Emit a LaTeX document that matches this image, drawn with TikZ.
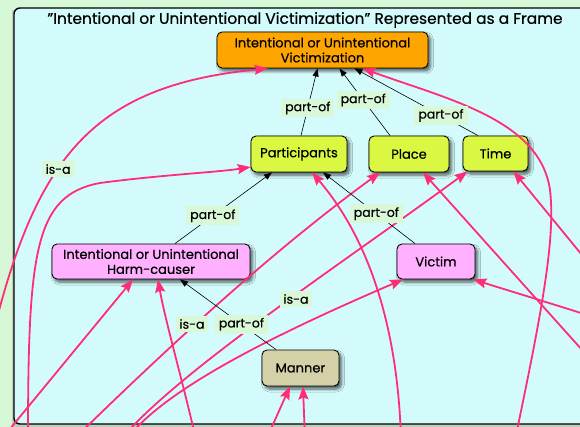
\documentclass[tikz,border=0pt]{standalone}
\usepackage{fontspec}
\setmainfont{Poppins}[FakeBold=0.5,UprightFeatures={FakeBold=0.5}]
\usetikzlibrary{arrows.meta,calc,shadows.blur}

\definecolor{pagegreen}{RGB}{214,248,214}
\definecolor{framecyan}{RGB}{212,251,251}
\definecolor{frameorange}{RGB}{255,165,0}
\definecolor{slotgreen}{RGB}{218,247,66}
\definecolor{rolepink}{RGB}{255,176,255}
\definecolor{mannertan}{RGB}{212,208,168}
\definecolor{isapink}{RGB}{255,45,120}
\definecolor{tagbg}{RGB}{216,248,216}

\begin{document}
\begin{tikzpicture}[x=1pt,y=-1pt,
  box/.style={draw=black, line width=0.9pt, rounded corners=5pt, align=center,
    inner sep=2pt, font=\fontsize{13}{15}\selectfont,
    blur shadow={shadow xshift=2.5pt, shadow yshift=-3pt, shadow blur radius=3pt,
      shadow blur steps=6, shadow opacity=65}},
  tag/.style={fill=tagbg, inner xsep=4pt, inner ysep=3pt, font=\fontsize{12.5}{14}\selectfont},
  partof/.style={draw=black, line width=0.6pt, -{Triangle[length=8pt,width=6pt]}},
  isa/.style={draw=isapink, line width=1.8pt, -{Stealth[length=13pt,width=10pt,inset=2pt]}}]

\useasboundingbox (0,0) rectangle (580,427);
\clip (0,0) rectangle (580,427);
\fill[pagegreen] (0,0) rectangle (580,427);

% the frame panel
\fill[black!35, opacity=0.5] (11.5,10) rectangle (600,427);
\draw[fill=framecyan, line width=1.4pt, rounded corners=6pt] (14,8) rectangle (600,424);

\node[font=\fontsize{15.4}{17}\selectfont] (title) at (305,20)
  {”Intentional or Unintentional Victimization” Represented as a Frame};

% frame and slot boxes
\node[box, fill=frameorange, minimum width=211pt, minimum height=36pt] (top) at (322.5,50)
  {Intentional or Unintentional\\Victimization};
\node[box, fill=slotgreen, minimum width=96pt, minimum height=36pt] (part) at (299,154) {Participants};
\node[box, fill=slotgreen, minimum width=80pt, minimum height=36pt] (place) at (409,154) {Place};
\node[box, fill=slotgreen, minimum width=65pt, minimum height=35pt] (time) at (495.5,153.5) {Time};
\node[box, fill=rolepink, minimum width=198pt, minimum height=35pt] (harm) at (151,261.5)
  {Intentional or Unintentional\\Harm-causer};
\node[box, fill=rolepink, minimum width=78pt, minimum height=35pt] (victim) at (436,261.5) {Victim};
\node[box, fill=mannertan, minimum width=77pt, minimum height=36pt] (manner) at (300.5,368) {Manner};

% loose ends of the is-a links, outside the panel
\coordinate (a0) at (-4,322);
\coordinate (b0) at (28,440);
\coordinate (c0) at (0,441);
\coordinate (d0) at (196,440);
\coordinate (e0) at (73,440);
\coordinate (g0) at (120,440);
\coordinate (h0) at (126,440);
\coordinate (f0) at (401,440);
\coordinate (i0) at (515,440);
\coordinate (j0) at (600,370);
\coordinate (k0) at (600,277);
\coordinate (l0) at (600,319);
\coordinate (m1) at (266,440);
\coordinate (m2) at (305,440);

% is-a links
\draw[isa] (a0) .. controls (40,150) and (100,85) .. node[tag, pos=0.38] (isaA) {is-a} ($(top.south west)+(51,0)$);
\draw[isa] (b0) .. controls (28,250) and (35,195) .. (100,183)
  .. controls (160,175) and (220,172) .. ($(part.west)+(0,13)$);
\draw[isa] (c0) -- ($(harm.south)+(-18,0)$);
\draw[isa] (d0) .. controls (185,390) and (165,320) .. ($(harm.south)+(7,0)$);
\draw[isa] (e0) .. controls (150,365) and (260,260) .. ($(place.south)+(-29,0)$);
\draw[isa] (g0) .. controls (180,370) and (340,265) .. ($(time.south)+(-28,0)$);
\draw[isa] (h0) .. controls (160,395) and (250,345) .. ($(victim.south)+(-33,0)$);
\draw[isa] (f0) .. controls (398,330) and (370,240) .. ($(part.south)+(13,0)$);
\draw[isa] (i0) .. controls (540,320) and (556,240) .. (550,190)
  .. controls (540,120) and (450,100) .. ($(top.south west)+(146,0)$);
\draw[isa] (j0) -- ($(place.south)+(14,0)$);
\draw[isa] (k0) -- ($(time.south)+(18,0)$);
\draw[isa] (l0) .. controls (540,300) and (500,288) .. ($(victim.south east)+(-2,0)$);
\draw[isa] (m1) -- ($(manner.south)+(-10.5,0)$);
\draw[isa] (m2) -- ($(manner.south)+(2.5,0)$);

% part-of links
\draw[partof] ($(part.north)+(2,0)$) -- node[tag, pos=0.41] (po1) {part-of} ($(top.south)+(-5,0)$);
\draw[partof] ($(place.north)+(-19,0)$) -- node[tag, pos=0.53] (po2) {part-of} ($(top.south)+(17,0)$);
\draw[partof] ($(time.north)+(-17.5,0)$) -- node[tag, pos=0.3] (po3) {part-of} ($(top.south)+(32,0)$);
\draw[partof] ($(harm.north)+(24,0)$) -- node[tag, pos=0.39] (po4) {part-of} ($(part.south)+(-27,0)$);
\draw[partof] ($(victim.north)+(-21,0)$) -- node[tag, pos=0.42] (po5) {part-of} ($(part.south)+(24,0)$);
\draw[partof] ($(manner.north)+(-24.5,0)$) -- node[tag, pos=0.36] (po6) {part-of} ($(harm.south)+(29,0)$);

% is-a tags on the crossing links
\node[tag] (isaE) at (192,324) {is-a};
\node[tag] (isaG) at (296,299) {is-a};
\end{tikzpicture}
\end{document}
